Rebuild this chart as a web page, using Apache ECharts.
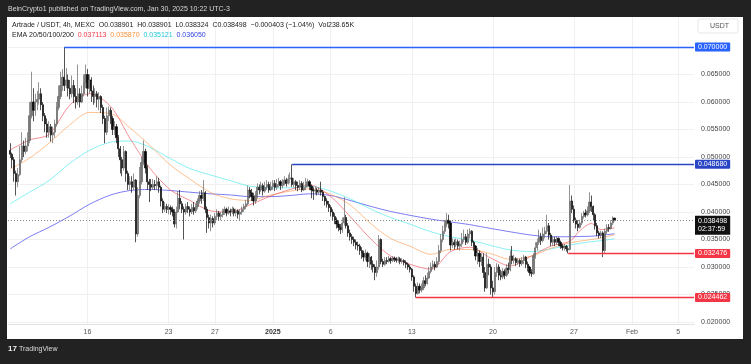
<!DOCTYPE html>
<html><head><meta charset="utf-8">
<script src="https://cdn.jsdelivr.net/npm/echarts@6/dist/echarts.min.js"></script>
<style>html,body{margin:0;padding:0;background:#222;}#c{width:751px;height:364px;}</style>
</head><body><div id="c"></div>
<script>
// ---- DATA (prices in units of 0.0001 USDT) ----
const firstCandleUTC = [2024, 11, 9, 8];   // first 4h candle: 2024-12-09 08:00 UTC
const firstOpen = 512;
const closes = [
505,495,470,455,468,495,520,510,520,530,
575,600,585,600,605,615,595,575,560,545,
555,540,545,560,590,610,630,645,630,640,
625,615,630,610,600,615,600,615,635,650,
625,640,620,610,615,605,610,590,570,545,
575,585,570,550,555,535,515,495,480,510,
470,450,455,445,458,360,430,455,490,510,
480,455,450,445,450,448,455,445,420,405,
410,405,408,405,400,378,400,425,415,405,
400,410,405,400,408,402,410,420,430,425,
435,405,390,380,388,380,392,398,392,395,
400,405,398,402,400,405,398,402,396,400,
405,410,415,440,435,428,420,430,445,440,
448,438,445,450,440,446,452,445,450,455,
448,452,458,452,460,462,450,455,448,445,
452,440,445,450,455,447,440,438,440,436,
440,436,428,420,414,408,400,392,385,378,
372,368,380,390,375,362,355,350,345,340,
338,330,325,318,325,310,318,305,300,290,
300,350,310,305,312,310,315,312,316,314,
312,315,310,312,308,305,300,296,282,265,
252,265,258,262,275,270,280,292,300,305,
300,310,330,350,365,378,385,380,340,345,
340,346,338,342,350,355,345,360,365,345,
338,320,325,310,318,290,262,305,300,262,
255,290,300,285,282,292,285,298,295,320,
312,315,308,312,306,312,318,305,300,290,
288,320,335,345,355,348,360,365,375,358,
345,350,345,352,345,338,335,338,333,332,
420,405,385,378,372,380,392,398,395,402,
418,410,395,375,362,358,362,330,365,372,
370,380,389.01,384.98];
const highs = [
525,508,500,475,480,520,545,530,535,545,
600,655,625,615,620,636,625,600,580,570,
565,560,555,568,600,630,655,660,700,662,
650,640,648,640,625,668,625,630,650,668,
660,650,645,630,625,620,618,612,595,575,
590,592,590,575,565,560,540,520,500,520,
512,475,465,465,470,460,445,482,500,530,
515,485,460,460,460,458,465,462,448,425,
418,415,414,412,410,405,410,438,440,420,
410,415,418,410,415,418,415,425,438,440,
458,438,410,395,395,392,398,405,402,400,
406,410,408,410,406,410,408,406,405,405,
410,415,422,448,445,442,435,438,452,450,
455,452,455,458,455,455,458,458,460,462,
458,460,465,462,468,472,486.8,462,458,455,
458,456,455,462,460,458,450,445,446,444,
445,455,440,430,425,420,412,405,398,390,
385,378,390,427,395,380,368,360,355,350,
346,342,336,330,332,328,325,320,312,305,
312,358,352,315,318,318,320,318,320,319,
318,319,318,316,314,312,308,304,298,285,
270,272,270,270,282,285,290,300,308,312,
310,318,340,360,375,385,398,395,385,352,
350,352,350,348,362,368,360,368,370,367,
348,340,335,330,325,325,300,325,315,305,
275,300,307,305,295,298,296,305,308,330,
338,322,318,316,315,318,322,320,310,302,
296,325,345,352,368,362,372,373,395,380,
362,356,355,356,354,348,342,342,340,338,
449,430,412,390,385,386,398,402,405,410,
436,430,412,398,380,366,366,365,370,378,
378,385,392,389.01];
const lows = [
498,480,455,430,445,465,490,500,505,510,
525,570,565,575,585,595,585,565,545,535,
535,528,525,535,555,585,605,620,620,625,
610,605,608,598,588,595,590,598,610,625,
610,615,600,595,598,590,585,580,560,525,
540,565,560,540,540,525,500,470,465,475,
455,440,440,435,440,345,355,425,450,485,
470,440,418,438,440,440,440,435,410,398,
400,398,396,395,392,372,370,398,405,398,
350,395,398,392,396,395,398,405,415,415,
420,398,362,370,365,372,376,385,385,385,
390,395,392,395,392,396,392,392,388,385,
395,400,405,412,425,420,412,415,425,432,
436,430,435,440,435,438,440,438,440,445,
440,443,448,446,450,452,446,445,440,438,
440,436,438,440,445,440,425,422,432,430,
432,430,420,412,408,400,392,385,378,370,
365,360,362,375,370,355,348,342,338,332,
330,322,315,310,312,300,298,295,290,276,
282,295,305,300,302,305,308,306,309,309,
308,308,305,306,303,298,295,290,275,255,
244.62,250,252,254,258,265,268,278,288,296,
294,298,305,325,345,360,372,370,330,335,
332,336,332,330,336,345,340,342,352,338,
330,312,305,300,302,280,255,260,285,250,
244,250,282,276,276,278,278,282,288,292,
305,306,302,304,300,302,305,298,292,284,
282,286,315,330,340,340,345,352,360,350,
338,338,338,340,338,333,330,330,328,324.76,
330,398,380,370,365,370,376,388,390,392,
398,400,385,368,356,352,352,318,325,360,
364,368,376,383.24];
// EMA lines read at these candle indexes
const emaIdx = [0,10,20,31,41,52,62,72,83,93,104,114,124,135,145,155,166,176,187,197,207,218,228,238,249,259,270,280,290,295,301,306,313];
const ema20  = [513,531,541,595,615,592,534,481,440,421,402,400,413,429,441,449,428,392,350,320,305,296,328,336,316,302,320,338,347,366,379,368,371.13];
const ema50  = [478,498,525,559,581,579,553,522,485,460,435,424,421,431,438,442,432,413,378,352,338,323,332,332,324,314,320,334,344,347,350,353,358.70];
const ema100 = [415,436,457,489,512,527,529,518,497,479,467,457,447,444,444,447,438,424,405,390,378,364,355,349,339,331,328,333,340,343,346,348,351.21];
const ema200 = [333,355,372,393,414,431,439,441,439,436,433,431,428,428,430,433,430,421,410,401,394,387,382,377,370,364,358,355,355,355.5,356,357.5,360.50];
// key levels: [price, start candle index, colour key]
const levels = [[700, 28, 'blue'], [486.80, 146, 'blue2'], [324.76, 289, 'red'], [244.62, 210, 'red']];
const lastPrice = 384.98;
// axis ticks
const xTickDates = ['2024-12-16','2024-12-23','2024-12-27','2025-01-01','2025-01-06','2025-01-13','2025-01-20','2025-01-27','2025-02-01','2025-02-05'];
const xTickLabels = ['16','23','27','2025','6','13','20','27','Feb','5'];
const yTicks = [0.020,0.025,0.030,0.035,0.040,0.045,0.050,0.055,0.060,0.065,0.070];

// ---- BUILD ----
const U = 1e-4, H4 = 4*3600*1000;
const t0 = Date.UTC.apply(null, firstCandleUTC);
const times = closes.map((_, i) => t0 + i*H4);
const xMin = Date.UTC(2024,11,9,3,17), xMax = Date.UTC(2025,1,6,8,38);
const candles = closes.map((c, i) => [times[i], (i ? closes[i-1] : firstOpen)*U, c*U, lows[i]*U, highs[i]*U]);
const emaSeries = (arr) => emaIdx.map((k, j) => [times[k], arr[j]*U]);
const xTicks = xTickDates.map(d => Date.parse(d + 'T00:00:00Z'));
const FONT = 'Liberation Sans';
const colors = {blue:'#2962ff', blue2:'#2a45c4', red:'#f23645'};

const levelLines = levels.map(([p, k, c]) => [
  {coord:[times[k], p*U], lineStyle:{color:colors[c], width:1.3, type:'solid'},
   label:{show:true, position:'end', distance:1, formatter:(p*U).toFixed(6), color:'#fff', backgroundColor:colors[c],
          fontSize:7, fontFamily:FONT, padding:[1,3,1,3], borderRadius:1}},
  {coord:[xMax, p*U]}
]);
levelLines.push([
  {coord:[xMin, lastPrice*U], lineStyle:{color:'#888', width:1, type:[1,2]},
   label:{show:true, position:'end', distance:1, formatter:(lastPrice*U).toFixed(6)+'\n02:37:59', color:'#fff', backgroundColor:'#111',
          fontSize:7, fontFamily:FONT, lineHeight:8, padding:[2,3,1,3], offset:[0,5]}},
  {coord:[xMax, lastPrice*U]}
]);

const chart = echarts.init(document.getElementById('c'));
chart.setOption({
  animation:false,
  backgroundColor:'#222222',
  textStyle:{fontFamily:FONT},
  graphic:[
    {type:'rect', shape:{x:7,y:17,width:736,height:322}, style:{fill:'#ffffff'}, z:-10, silent:true},
    {type:'text', left:8, top:6, style:{text:'BeinCrypto1 published on TradingView.com, Jan 30, 2025 10:22 UTC-3', fill:'#d8d8d8', font:'7px '+FONT}},
    {type:'text', left:12, top:22, style:{text:'Artrade / USDT, 4h, MEXC  O0.038901  H0.038901  L0.038324  C0.038498  \u22120.000403 (\u22121.04%)  Vol238.65K', fill:'#222', font:'7px '+FONT}, z:20},
    {type:'text', left:12, top:32, style:{rich:{a:{fill:'#222'},r:{fill:'#f23645'},o:{fill:'#f7913a'},c:{fill:'#22c8dd'},b:{fill:'#3040e0'}},
      text:'{a|EMA 20/50/100/200}  {r|0.037113}  {o|0.035870}  {c|0.035121}  {b|0.036050}', font:'7px '+FONT}, z:20},
    {type:'rect', shape:{x:698,y:19,width:40,height:14,r:2}, style:{fill:'#fff', stroke:'#e6e6e6', lineWidth:1}, z:20},
    {type:'text', left:710, top:22.5, style:{text:'USDT', fill:'#555', font:'7px '+FONT}, z:21},
    {type:'text', left:8, top:345, style:{text:'17', fill:'#eee', font:'bold 8px '+FONT}},
    {type:'text', left:19, top:346, style:{text:'TradingView', fill:'#ddd', font:'7px '+FONT}}
  ],
  grid:{left:8, right:57, top:17, bottom:40},
  xAxis:{type:'value', min:xMin, max:xMax,
    axisLine:{show:true, lineStyle:{color:'#e3e3e3'}},
    axisTick:{show:false, customValues:xTicks},
    axisLabel:{customValues:xTicks, color:'#555', fontSize:7, fontFamily:FONT, margin:5, hideOverlap:false,
      formatter:(v)=>{const k = xTicks.indexOf(v); const s = k>=0 ? xTickLabels[k] : ''; return s==='2025' ? '{b|2025}' : s;},
      rich:{b:{fontWeight:'bold', fontSize:7, color:'#333', fontFamily:FONT}}},
    splitLine:{show:true, lineStyle:{color:'#f0f0f0', width:1}}},
  yAxis:{type:'value', position:'right', min:0.01964, max:0.07545,
    axisLine:{show:false}, axisTick:{show:false, customValues:yTicks},
    axisLabel:{customValues:yTicks, color:'#444', fontSize:7, fontFamily:FONT, margin:7, formatter:(v)=>v.toFixed(6)},
    splitLine:{show:true, lineStyle:{color:'#f0f0f0', width:1}}},
  series:[
    {type:'line', data:emaSeries(ema200), smooth:0.3, showSymbol:false, lineStyle:{color:'rgba(80,80,240,0.75)', width:1}, z:3},
    {type:'line', data:emaSeries(ema100), smooth:0.3, showSymbol:false, lineStyle:{color:'rgba(60,230,235,0.6)', width:1}, z:3},
    {type:'line', data:emaSeries(ema50), smooth:0.3, showSymbol:false, lineStyle:{color:'rgba(255,150,70,0.6)', width:1}, z:3},
    {type:'line', data:emaSeries(ema20), smooth:0.3, showSymbol:false, lineStyle:{color:'rgba(240,70,80,0.6)', width:1}, z:3},
    {type:'candlestick', data:candles, encode:{x:0, y:[1,2,3,4]}, barWidth:1.7, z:4,
      itemStyle:{color:'#777777', color0:'#0a0a0a', borderColor:'#666666', borderColor0:'#0a0a0a', borderWidth:0.7},
      markLine:{symbol:['none','none'], silent:true, animation:false, data:levelLines, z:6}}
  ]
});
</script></body></html>
